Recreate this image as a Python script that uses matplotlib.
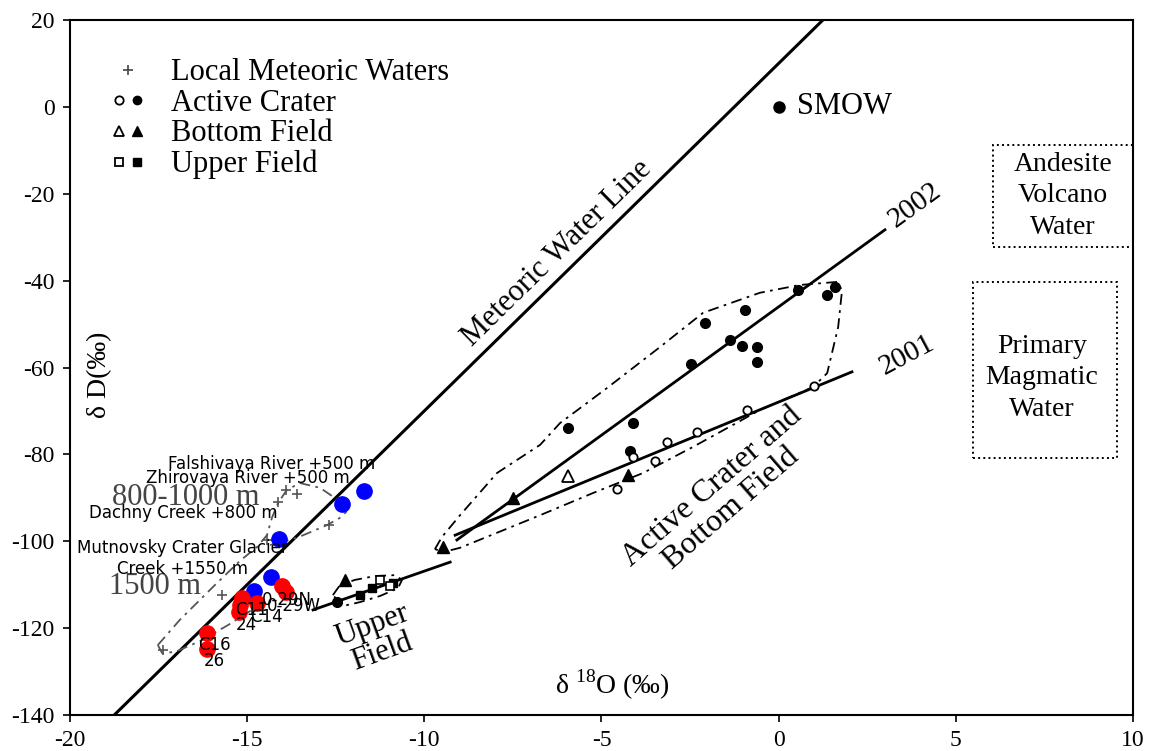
import numpy as np
import matplotlib
matplotlib.use("Agg")
import matplotlib.pyplot as plt
from matplotlib.lines import Line2D
from matplotlib.patches import Rectangle
from matplotlib.legend_handler import HandlerTuple

plt.rcParams['font.family'] = ['Liberation Serif', 'DejaVu Serif']
plt.rcParams['mathtext.fontset'] = 'custom'
plt.rcParams['mathtext.rm'] = 'Liberation Serif'
plt.rcParams['axes.unicode_minus'] = False

# ---- data (d18O, dD) ----
mwl_x = [-20, 2]                      # global meteoric water line dD = 8*d18O + 10
line_2002_x = [-9.08, 3.0]
line_2002_y = [-99.7, -28.3]
line_2001_x = [-9.13, 2.07]
line_2001_y = [-98.6, -61.0]
upper_line_x = [-13.14, -9.27]
upper_line_y = [-115.8, -104.8]

crater_fill_x = [0.55, 1.37, 1.59, -0.95, -2.08, -1.37, -1.03, -0.61, -0.61, -2.47, -4.11, -4.19, -5.94, -12.46]
crater_fill_y = [-42.2, -43.3, -41.5, -46.8, -49.8, -53.7, -55.0, -55.3, -58.7, -59.2, -72.8, -79.2, -73.9, -114.0]
crater_open_x = [-0.89, -2.30, -3.15, -4.11, -3.49, -4.56, 1.00]
crater_open_y = [-69.8, -74.8, -77.1, -80.6, -81.5, -88.0, -64.3]
bottom_fill_x = [-7.50, -9.47, -4.25, -12.24]
bottom_fill_y = [-90.0, -101.3, -84.7, -108.9]
bottom_open_x = [-5.94]
bottom_open_y = [-85.0]
upper_fill_x = [-11.81, -11.48, -10.88]
upper_fill_y = [-112.4, -110.8, -109.6]
upper_open_x = [-11.25, -10.97]
upper_open_y = [-108.9, -110.3]
local_x = [-17.38, -15.71, -14.13, -13.90, -13.59, -12.69, -14.44]
local_y = [-125.0, -112.4, -91.0, -88.2, -89.1, -96.3, -99.7]

# envelopes (dash-dot outlines)
crater_env_x = [-9.70, -9.50, -8.99, -7.95, -6.73, -6.17, -4.84, -3.35, -2.13, -0.53, 0.60, 1.65, 1.79,
                1.68, 1.37, 0.97, -0.53, -2.42, -3.83, -5.24, -6.73, -8.99, -9.47, -9.70]
crater_env_y = [-101.8, -99.0, -94.0, -84.3, -77.8, -72.8, -64.7, -55.3, -47.4, -42.8, -41.0, -40.3, -42.2,
                -50.7, -61.3, -64.5, -69.8, -78.3, -84.3, -88.9, -94.0, -101.5, -102.5, -101.8]
upper_env_x = [-12.58, -12.38, -11.96, -11.39, -10.83, -10.63, -10.74, -11.25, -11.81, -12.29, -12.58]
upper_env_y = [-112.4, -110.1, -108.9, -108.0, -107.8, -108.9, -110.8, -112.6, -114.0, -114.9, -112.4]
local_env_x = [-17.52, -16.90, -15.85, -15.20, -14.72, -14.44, -14.30, -14.13, -13.88, -13.51, -12.94,
               -12.44, -12.21, -12.38, -12.75, -13.59, -14.36]
local_env_y = [-123.9, -118.1, -109.6, -104.5, -101.3, -98.6, -94.6, -91.2, -88.2, -86.6, -87.7,
               -90.5, -93.3, -94.6, -96.3, -99.2, -100.9]
local_low_x = [-17.52, -17.40, -17.04, -16.33, -15.54, -14.69]
local_low_y = [-123.9, -125.7, -125.5, -123.0, -119.3, -114.9]

# overlaid samples
blue_x = [-11.70, -12.32, -14.10, -14.33, -14.81]
blue_y = [-88.4, -91.4, -99.5, -108.2, -111.4]
blue_labels = ['Falshivaya River +500 m', 'Zhirovaya River +500 m', 'Dachny Creek +800 m', '',
               'Mutnovsky Crater Glacier\nCreek +1550 m']
red_x = [-14.02, -13.90, -14.72, -15.15, -15.20, -15.23, -16.13, -16.13]
red_y = [-110.3, -111.7, -114.2, -113.1, -114.7, -116.3, -121.1, -124.8]
red_labels = ['0-29N', '0-29W', 'C14', 'C11', '', '24', 'C16', '26']

# label offsets in pixels
blue_off = [(11, 27), (8, 26), (-1, 26), (0, 0), (34, 32)]
red_off = [(5, -14), (8, -14), (9, -14), (10, -12), (0, 0), (7, -13), (7, -12), (7, -12)]

fig = plt.figure(figsize=(11.6, 7.51), dpi=100)
ax = fig.add_axes([0.0603, 0.0479, 0.9164, 0.9255])
ax.set_xlim(-20, 10)
ax.set_ylim(-140, 20)
ax.set_xticks(np.arange(-20, 11, 5))
ax.set_yticks(np.arange(-140, 21, 20))
ax.tick_params(direction='out', length=5, labelsize=17, width=1.2, pad=6)
for s in ax.spines.values():
    s.set_linewidth(1.5)

dashdot = (0, (6, 3, 1.5, 3))
mx = np.array(mwl_x)
ax.plot(mx, 8 * mx + 10, color='k', lw=2.2)
ax.plot(line_2002_x, line_2002_y, color='k', lw=2)
ax.plot(line_2001_x, line_2001_y, color='k', lw=2)
ax.plot(upper_line_x, upper_line_y, color='k', lw=2)

ax.plot(crater_env_x, crater_env_y, color='k', lw=1.3, ls=dashdot)
ax.plot(upper_env_x, upper_env_y, color='k', lw=1.3, ls=dashdot)
ax.plot(local_env_x, local_env_y, color='#555555', lw=1.3, ls=dashdot)
ax.plot(local_low_x, local_low_y, color='#555555', lw=1.3, ls=dashdot)

ax.plot(crater_fill_x, crater_fill_y, 'o', color='k', ms=7)
ax.plot(crater_open_x, crater_open_y, 'o', mfc='white', mec='k', ms=6, mew=1.3)
ax.plot(bottom_fill_x, bottom_fill_y, '^', color='k', ms=8)
ax.plot(bottom_open_x, bottom_open_y, '^', mfc='white', mec='k', ms=8, mew=1.3)
ax.plot(upper_fill_x, upper_fill_y, 's', color='k', ms=6)
ax.plot(upper_open_x, upper_open_y, 's', mfc='white', mec='k', ms=6, mew=1.2)
ax.plot(local_x, local_y, '+', color='#555555', ms=7, mew=1.2)
ax.plot([0], [0], 'o', color='k', ms=8)

ax.text(0.52, 0, 'SMOW', fontsize=22, va='center', ha='left')
ax.text(-6.25, -33.8, 'Meteoric Water Line', fontsize=22, rotation=44.4,
        ha='center', va='center', rotation_mode='anchor')
ax.text(3.85, -22.6, '2002', fontsize=21, rotation=36, ha='center', va='center', rotation_mode='anchor')
ax.text(3.62, -57.1, '2001', fontsize=21, rotation=28, ha='center', va='center', rotation_mode='anchor')
ax.text(-11.33, -122.5, 'Upper\nField', fontsize=22, rotation=20, ha='center', va='center',
        multialignment='center', rotation_mode='anchor', linespacing=1.0)
ax.text(-1.6, -90.0, 'Active Crater and\nBottom Field', fontsize=23, rotation=41, ha='center',
        va='center', multialignment='center', rotation_mode='anchor', linespacing=1.0)
ax.text(-16.73, -90.0, '800-1000 m', fontsize=22, color='#444444', ha='center', va='center')
ax.text(-17.60, -110.5, '1500 m', fontsize=22, color='#444444', ha='center', va='center')

ax.add_patch(Rectangle((6.05, -32.3), 3.95, 23.5, fill=False, ls=':', lw=1.4, ec='k', clip_on=False))
ax.add_patch(Rectangle((5.49, -80.8), 4.06, 40.5, fill=False, ls=':', lw=1.4, ec='k'))
ax.text(8.03, -20.5, 'Andesite\nVolcano\nWater', fontsize=20, ha='center', va='center', linespacing=1.35)
ax.text(7.43, -62.4, 'Primary\nMagmatic\nWater', fontsize=20, ha='center', va='center', linespacing=1.35)

ax.text(-19.15, -61.7, 'δ D(‰)', fontsize=20, rotation=90, ha='center', va='center')
ax.text(-4.70, -133.1, 'δ $^{18}$O (‰)', fontsize=20, ha='center', va='center')

# overlaid coloured samples
ax.plot(blue_x, blue_y, 'o', color='#0000ff', ms=11, zorder=5)
ax.plot(red_x, red_y, 'o', color='#ff0000', ms=11, zorder=5)
for x, y, lab, off in zip(blue_x, blue_y, blue_labels, blue_off):
    if lab:
        ax.annotate(lab, (x, y), xytext=off, textcoords='offset pixels', ha='right', va='center',
                    multialignment='center', fontsize=12, family='DejaVu Sans', zorder=6)
for x, y, lab, off in zip(red_x, red_y, red_labels, red_off):
    if lab:
        ax.annotate(lab, (x, y), xytext=off, textcoords='offset pixels', ha='center', va='center',
                    fontsize=12, family='DejaVu Sans', zorder=6)

# legend
h_plus = Line2D([], [], ls='none', marker='+', color='#444444', ms=7, mew=1.2)
h_circ = (Line2D([], [], ls='none', marker='o', mfc='white', mec='k', ms=6, mew=1.3),
          Line2D([], [], ls='none', marker='o', color='k', ms=6))
h_tri = (Line2D([], [], ls='none', marker='^', mfc='white', mec='k', ms=7, mew=1.3),
         Line2D([], [], ls='none', marker='^', color='k', ms=7))
h_sq = (Line2D([], [], ls='none', marker='s', mfc='white', mec='k', ms=6, mew=1.3),
        Line2D([], [], ls='none', marker='s', color='k', ms=6))
ax.legend([h_plus, h_circ, h_tri, h_sq],
          ['Local Meteoric Waters', 'Active Crater', 'Bottom Field', 'Upper Field'],
          handler_map={tuple: HandlerTuple(ndivide=None, pad=0.15)},
          loc='upper left', bbox_to_anchor=(0.04, 0.945), frameon=False, fontsize=22,
          handlelength=1.0, handletextpad=0.9, labelspacing=0.05, borderaxespad=0, borderpad=0)

fig.savefig('out.png', dpi=100)
